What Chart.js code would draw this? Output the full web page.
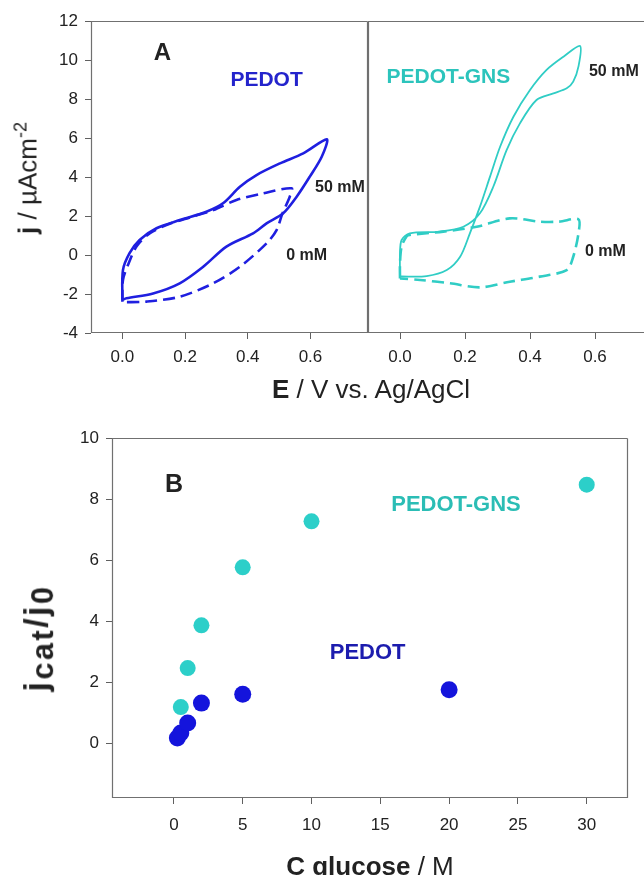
<!DOCTYPE html>
<html>
<head>
<meta charset="utf-8">
<script src="https://cdn.jsdelivr.net/npm/chart.js@4.4.1/dist/chart.umd.min.js"></script>
<style>
  html, body { margin: 0; padding: 0; background: #fff; overflow: hidden; }
  #page { position: relative; width: 644px; height: 875px; overflow: hidden;
          font-family: "Liberation Sans", Arial, sans-serif; color: #222; }
  canvas { position: absolute; }
  .title { position: absolute; white-space: nowrap; line-height: 1; font-size: 26px;
           transform: translate(-50%, -50%); }
  .rot { transform: translate(-50%, -50%) rotate(-90deg); }
  .big { font-size: 34px; letter-spacing: 2.5px; }
  sup { font-size: 70%; vertical-align: 0.55em; }
  sub { font-size: 90%; vertical-align: -0.2em; }
</style>
</head>
<body>
<div id="page">
  <canvas id="cvPedot" width="380" height="380" style="left:0;top:0"></canvas>
  <canvas id="cvGns" width="300" height="380" style="left:360px;top:0"></canvas>
  <canvas id="calib" width="644" height="455" style="left:0;top:420px"></canvas>

  <div class="title rot" style="left:26px;top:178px"><b>j</b> / µAcm<sup>-2</sup></div>
  <div class="title" style="left:371px;top:389px"><b>E</b> / V vs. Ag/AgCl</div>
  <div class="title rot big" style="left:38px;top:638px"><b>j<sub>cat</sub>/j<sub>0</sub></b></div>
  <div class="title" style="left:370px;top:866px"><b>C glucose</b> / M</div>
</div>

<script>
// ---- Panel A: cyclic voltammograms (E in V, j in µA cm-2) ----
// PEDOT, 50 mM glucose (solid)
const pedotE50 = [0, 0.002, 0.023, 0.055, 0.109, 0.183, 0.268, 0.321, 0.375, 0.428, 0.503, 0.577, 0.652,
                  0.636, 0.598, 0.556, 0.513, 0.46, 0.417, 0.332, 0.258, 0.183, 0.098, 0.013, 0];
const pedotJ50 = [-2.3, -0.77, 0.09, 0.77, 1.37, 1.79, 2.22, 2.65, 3.5, 4.1, 4.7, 5.21, 5.93,
                  5.04, 4.02, 2.99, 2.14, 1.62, 1.11, 0.43, -0.6, -1.45, -1.97, -2.22, -2.3];
// PEDOT, 0 mM (dashed)
const pedotE0 = [0, 0.002, 0.02, 0.045, 0.087, 0.151, 0.22, 0.29, 0.364, 0.449, 0.54,
                 0.534, 0.51, 0.492, 0.46, 0.375, 0.29, 0.183, 0.077, 0.002, 0];
const pedotJ0 = [-2.4, -1.28, -0.43, 0.43, 1.11, 1.6, 1.95, 2.3, 2.82, 3.16, 3.42,
                 2.99, 2.1, 1.28, 0.6, -0.6, -1.45, -2.14, -2.39, -2.42, -2.4];
// PEDOT-GNS, 50 mM (solid)
const gnsE50 = [0, 0.082, 0.144, 0.185, 0.215, 0.246, 0.277, 0.308, 0.349, 0.4, 0.451, 0.503, 0.554,
                0.549, 0.533, 0.513, 0.472, 0.42, 0.369, 0.328, 0.287, 0.246, 0.195, 0.123, 0.03, 0.005, 0, 0];
const gnsJ50 = [-1.1, -1.08, -0.77, -0.09, 1.11, 2.48, 4.02, 5.55, 7.09, 8.46, 9.49, 10.17, 10.72,
                9.66, 8.89, 8.55, 8.29, 7.95, 6.75, 5.38, 3.5, 2.14, 1.45, 1.2, 1.11, 0.77, 0.09, -1.1];
// PEDOT-GNS, 0 mM (dashed)
const gnsE0 = [0, 0, 0.005, 0.02, 0.03, 0.133, 0.236, 0.338, 0.43, 0.49, 0.549,
               0.549, 0.533, 0.513, 0.43, 0.338, 0.246, 0.154, 0.062, 0];
const gnsJ0 = [-1.2, -0.43, 0.43, 0.95, 1.03, 1.2, 1.45, 1.88, 1.71, 1.71, 1.83,
               1.1, -0.09, -0.77, -1.11, -1.37, -1.66, -1.45, -1.28, -1.2];

const cvYTicks = [-4, -2, 0, 2, 4, 6, 8, 10, 12];
const cvXTicks = [0, 0.2, 0.4, 0.6];

// ---- Panel B: jcat/j0 vs glucose concentration ----
const concPedot = [0.25, 0.5, 1, 2, 5, 20];
const ratioPedot = [0.17, 0.33, 0.66, 1.31, 1.6, 1.75];
const concGns = [0.5, 1, 2, 5, 10, 30];
const ratioGns = [1.18, 2.46, 3.86, 5.76, 7.27, 8.47];

const calibXTicks = [0, 5, 10, 15, 20, 25, 30];
const calibYTicks = [0, 2, 4, 6, 8, 10];

const BLUE = "#1f1fe0";
const CYAN = "#30cdc5";
const FONT = '"Liberation Sans", Arial, sans-serif';

function pairs(xs, ys) {
  return xs.map((x, i) => ({ x: x, y: ys[i] }));
}

// frame around the plot area (the axis lines themselves are switched off)
const framePlugin = {
  id: "frame",
  afterDraw(chart, args, opts) {
    const a = chart.chartArea;
    const ctx = chart.ctx;
    const l = Math.round(a.left) + 0.5, r = Math.round(a.right) - 0.5;
    const t = Math.round(a.top) + 0.5, b = Math.round(a.bottom) - 0.5;
    ctx.save();
    ctx.strokeStyle = "#707070";
    ctx.lineWidth = 1.2;
    ctx.beginPath();
    ctx.moveTo(r, t); ctx.lineTo(l, t); ctx.lineTo(l, b); ctx.lineTo(r, b);
    if (!opts.openRight) ctx.lineTo(r, t);
    ctx.stroke();
    ctx.restore();
  }
};

// text notes placed in data coordinates
const notesPlugin = {
  id: "notes",
  afterDraw(chart, args, opts) {
    const ctx = chart.ctx;
    const sx = chart.scales.x, sy = chart.scales.y;
    ctx.save();
    ctx.textAlign = "center";
    ctx.textBaseline = "middle";
    (opts.items || []).forEach(n => {
      ctx.font = "bold " + n.size + "px " + FONT;
      ctx.fillStyle = n.color;
      ctx.fillText(n.text, sx.getPixelForValue(n.x), sy.getPixelForValue(n.y));
    });
    ctx.restore();
  }
};

function xAxis(min, max, ticks, fmt, height, pad) {
  return {
    type: "linear", min: min, max: max,
    afterBuildTicks: s => { s.ticks = ticks.map(v => ({ value: v })); },
    afterFit: s => { s.height = height; },
    border: { display: false },
    grid: { drawOnChartArea: false, drawTicks: true, tickLength: 6, color: "#606060" },
    ticks: { color: "#222", font: { family: FONT, size: 17 }, padding: pad, callback: fmt }
  };
}

function yAxis(min, max, ticks, width, show) {
  return {
    type: "linear", min: min, max: max, display: show,
    afterBuildTicks: s => { s.ticks = ticks.map(v => ({ value: v })); },
    afterFit: s => { s.width = width; },
    border: { display: false },
    grid: { drawOnChartArea: false, drawTicks: true, tickLength: 6, color: "#606060" },
    ticks: { color: "#222", font: { family: FONT, size: 17 }, padding: 7 }
  };
}

function cvLine(xs, ys, color, width, dashed) {
  return {
    data: pairs(xs, ys), showLine: true, pointRadius: 0, borderColor: color,
    borderWidth: width, borderDash: dashed ? [12, 6] : [], tension: 0.3, fill: false
  };
}

const common = {
  responsive: false, animation: false, devicePixelRatio: 1,
  events: []
};

new Chart(document.getElementById("cvPedot"), {
  type: "scatter",
  data: {
    datasets: [
      cvLine(pedotE50, pedotJ50, BLUE, 2.6, false),
      cvLine(pedotE0, pedotJ0, BLUE, 2.6, true)
    ]
  },
  options: Object.assign({}, common, {
    layout: { padding: { top: 21, right: 12.5, left: 0, bottom: 0 } },
    scales: {
      x: xAxis(-0.1, 0.782, cvXTicks, v => v.toFixed(1), 47, 8),
      y: yAxis(-4, 12, cvYTicks, 91, true)
    },
    plugins: {
      legend: { display: false }, tooltip: { enabled: false },
      frame: { openRight: false },
      notes: { items: [
        { text: "A", x: 0.128, y: 10.34, size: 24, color: "#222" },
        { text: "PEDOT", x: 0.46, y: 8.97, size: 21, color: "#2424cc" },
        { text: "50 mM", x: 0.694, y: 3.47, size: 16, color: "#222" },
        { text: "0 mM", x: 0.588, y: -0.05, size: 16, color: "#222" }
      ] }
    }
  }),
  plugins: [framePlugin, notesPlugin]
});

new Chart(document.getElementById("cvGns"), {
  type: "scatter",
  data: {
    datasets: [
      cvLine(gnsE50, gnsJ50, CYAN, 1.8, false),
      cvLine(gnsE0, gnsJ0, CYAN, 2.6, true)
    ]
  },
  options: Object.assign({}, common, {
    layout: { padding: { top: 21, right: 13, left: 7.5, bottom: 0 } },
    scales: {
      x: xAxis(-0.1, 0.76, cvXTicks, v => v.toFixed(1), 47, 8),
      y: yAxis(-4, 12, cvYTicks, 0, false)
    },
    plugins: {
      legend: { display: false }, tooltip: { enabled: false },
      frame: { openRight: true },
      notes: { items: [
        { text: "PEDOT-GNS", x: 0.149, y: 9.11, size: 21, color: "#2cc4bc" },
        { text: "50 mM", x: 0.658, y: 9.4, size: 16, color: "#222" },
        { text: "0 mM", x: 0.632, y: 0.17, size: 16, color: "#222" }
      ] }
    }
  }),
  plugins: [framePlugin, notesPlugin]
});

new Chart(document.getElementById("calib"), {
  type: "scatter",
  data: {
    datasets: [
      { data: pairs(concPedot, ratioPedot), pointRadius: 8.5, backgroundColor: "#1414dc",
        borderColor: "#1414dc", borderWidth: 0 },
      { data: pairs(concGns, ratioGns), pointRadius: 8, backgroundColor: "#2ccfc9",
        borderColor: "#2ccfc9", borderWidth: 0 }
    ]
  },
  options: Object.assign({}, common, {
    layout: { padding: { top: 18, right: 16, left: 0, bottom: 0 } },
    scales: {
      x: xAxis(-4.5, 33, calibXTicks, v => String(v), 77, 11),
      y: yAxis(-1.8, 10, calibYTicks, 112, true)
    },
    plugins: {
      legend: { display: false }, tooltip: { enabled: false },
      frame: { openRight: false },
      notes: { items: [
        { text: "B", x: 0, y: 8.47, size: 25, color: "#222" },
        { text: "PEDOT-GNS", x: 20.5, y: 7.79, size: 22, color: "#2bbdb5" },
        { text: "PEDOT", x: 14.08, y: 2.95, size: 22, color: "#1c1cae" }
      ] }
    }
  }),
  plugins: [framePlugin, notesPlugin]
});
</script>
</body>
</html>
